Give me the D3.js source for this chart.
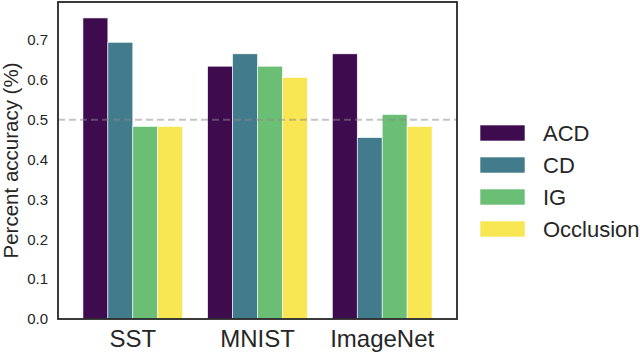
<!DOCTYPE html>
<html>
<head>
<meta charset="utf-8">
<script src="https://cdn.jsdelivr.net/npm/d3@7"></script>
<style>
  body { margin: 0; background: #fff; }
  svg { display: block; font-family: "Liberation Sans", Arial, sans-serif; }
</style>
</head>
<body>
<svg id="chart" width="640" height="352"></svg>
<script>
const categories = ['SST', 'MNIST', 'ImageNet'];
const methods = ['ACD', 'CD', 'IG', 'Occlusion'];
const acd = [0.755, 0.634, 0.665];
const cd = [0.694, 0.665, 0.455];
const ig = [0.483, 0.634, 0.513];
const occlusion = [0.483, 0.606, 0.483];
const yTicks = [0, 0.1, 0.2, 0.3, 0.4, 0.5, 0.6, 0.7];
const chanceLevel = 0.5;

const seriesValues = [acd, cd, ig, occlusion];
const colors = ['#3f0b4f', '#427b8b', '#6abf75', '#f9e653'];

const svg = d3.select('#chart');
const margin = { top: 2, right: 183, bottom: 33, left: 58 };
const width = 640 - margin.left - margin.right;
const height = 352 - margin.top - margin.bottom;

const chart = svg.append('g')
  .attr('transform', `translate(${margin.left},${margin.top})`);

const x = d3.scaleBand()
  .domain(categories)
  .range([0, width])
  .padding(0.2);

const xInner = d3.scaleBand()
  .domain(methods)
  .range([0, x.bandwidth()]);

const y = d3.scaleLinear()
  .domain([0, 0.795])
  .range([height, 0]);

const color = d3.scaleOrdinal().domain(methods).range(colors);

// bars
const rows = [];
categories.forEach((c, i) => {
  methods.forEach((m, j) => rows.push({ cat: c, method: m, value: seriesValues[j][i] }));
});

chart.selectAll('.bar')
  .data(rows)
  .enter()
  .append('rect')
  .attr('class', 'bar')
  .attr('x', d => x(d.cat) + xInner(d.method))
  .attr('y', d => y(d.value))
  .attr('width', xInner.bandwidth())
  .attr('height', d => height - y(d.value))
  .attr('fill', d => color(d.method))
  .attr('stroke', '#ffffff')
  .attr('stroke-width', 0.6);

// dashed reference line
chart.append('line')
  .attr('x1', 0)
  .attr('x2', width)
  .attr('y1', y(chanceLevel))
  .attr('y2', y(chanceLevel))
  .attr('stroke', '#8a8a8a')
  .attr('stroke-opacity', 0.5)
  .attr('stroke-width', 2)
  .attr('stroke-dasharray', '7,4');

// axes, no tick marks
const yAxis = chart.append('g')
  .attr('class', 'y-axis')
  .call(d3.axisLeft(y).tickValues(yTicks).tickFormat(d3.format('.1f')).tickSize(0).tickPadding(10));
yAxis.select('.domain').remove();
yAxis.selectAll('text')
  .attr('fill', '#262626')
  .style('font-size', '15px')
  .style('font-family', '"Liberation Sans", Arial, sans-serif');

const xAxis = chart.append('g')
  .attr('class', 'x-axis')
  .attr('transform', `translate(0,${height})`)
  .call(d3.axisBottom(x).tickSize(0).tickPadding(11));
xAxis.select('.domain').remove();
xAxis.selectAll('text')
  .attr('fill', '#262626')
  .style('font-size', '24px')
  .style('font-family', '"Liberation Sans", Arial, sans-serif');

// frame
chart.append('rect')
  .attr('x', 0)
  .attr('y', 0)
  .attr('width', width)
  .attr('height', height)
  .attr('fill', 'none')
  .attr('stroke', '#262626')
  .attr('stroke-width', 1.8);

// y label
svg.append('text')
  .attr('transform', `translate(18,${margin.top + height / 2}) rotate(-90)`)
  .attr('text-anchor', 'middle')
  .attr('fill', '#262626')
  .style('font-size', '20.5px')
  .text('Percent accuracy (%)');

// legend
const legend = svg.append('g')
  .attr('transform', 'translate(480,125)');

const item = legend.selectAll('.item')
  .data(methods)
  .enter()
  .append('g')
  .attr('class', 'item')
  .attr('transform', (d, i) => `translate(0,${i * 32})`);

item.append('rect')
  .attr('width', 45)
  .attr('height', 16)
  .attr('fill', d => color(d))
  .attr('stroke', '#ffffff')
  .attr('stroke-width', 0.6);

item.append('text')
  .attr('x', 63)
  .attr('y', 15.5)
  .attr('fill', '#262626')
  .style('font-size', '22px')
  .text(d => d);
</script>
</body>
</html>
